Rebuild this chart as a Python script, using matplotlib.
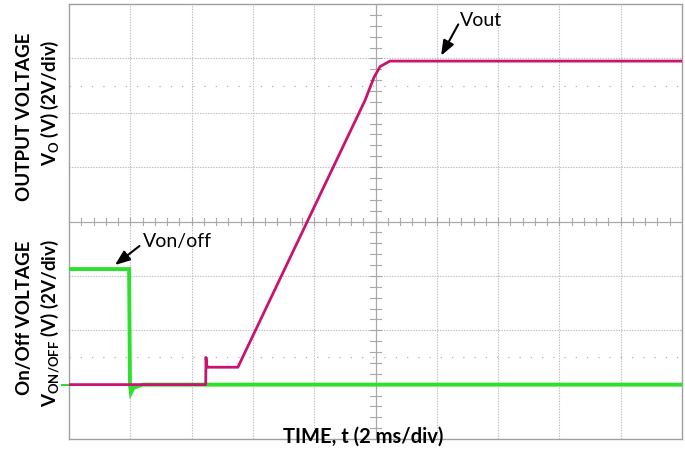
import matplotlib
matplotlib.use("Agg")
import matplotlib.pyplot as plt

# ---- data (time in ms, voltage in V) ----
vout_t = [0, 4.46, 4.47, 4.49, 4.53, 5.51, 9.66, 9.95, 10.15, 10.47, 20]
vout_v = [0, 0, 1.0, 0.72, 0.64, 0.64, 10.46, 11.3, 11.7, 11.9, 11.9]

von_t = [0, 1.96, 1.99, 2.02, 2.1, 2.4, 20]
von_v = [4.25, 4.25, 0.0, -0.3, -0.12, 0.0, 0.0]

x_label = "TIME, t (2 ms/div)"
y_top_label = ["OUTPUT VOLTAGE", "V$_{\\mathrm{O}}$ (V) (2V/div)"]
y_bot_label = ["On/Off VOLTAGE", "V$_{\\mathrm{ON/OFF}}$ (V) (2V/div)"]

plt.rcParams['font.family'] = ['Lato', 'DejaVu Sans']
plt.rcParams['mathtext.fontset'] = 'custom'
plt.rcParams['mathtext.rm'] = 'Lato:bold'
plt.rcParams['mathtext.default'] = 'rm'

fig = plt.figure(figsize=(6.85, 4.51), dpi=100)
ax = fig.add_axes([69/685, 12/451, 613/685, 435/451])
ax.set_xlim(0, 20)
ax.set_ylim(-2, 14)

grid_c = "#bcbcbc"
for x in range(2, 20, 2):
    if x != 10:
        ax.axvline(x, color=grid_c, lw=0.8, ls=(0, (1.2, 1.2)), zorder=1)
for y in range(0, 14, 2):
    if y != 6:
        ax.axhline(y, color=grid_c, lw=0.8, ls=(0, (1.2, 1.2)), zorder=1)
ax.axhline(6, color="#a8a8a8", lw=0.9, zorder=1)
ax.axvline(10, color="#a8a8a8", lw=0.9, zorder=1)
for i in range(1, 50):
    xx = i * 0.4
    ax.plot([xx, xx], [5.88, 6.12], color="#a8a8a8", lw=0.8, zorder=1)
for i in range(1, 40):
    yy = -2 + i * 0.4
    ax.plot([9.82, 10.18], [yy, yy], color="#a8a8a8", lw=0.8, zorder=1)
for yy in (1, 11):
    ax.axhline(yy, color="#b0b0b0", lw=0.9, ls=(0, (1, 8)), zorder=1)

ax.plot(von_t, von_v, color="#2ee02e", lw=2.8, zorder=3, solid_joinstyle='miter')
ax.plot(vout_t, vout_v, color="#c8146e", lw=2.0, zorder=4)
ax.plot([-0.22, -0.02], [0, 0], color="#2ee02e", lw=1.5, clip_on=False)

for s in ax.spines.values():
    s.set_color("#a0a0a0")
    s.set_linewidth(1.0)
ax.set_xticks([])
ax.set_yticks([])

arrow = dict(arrowstyle='-|>,head_length=0.9,head_width=0.35', color='black', lw=1.5,
             shrinkA=0, shrinkB=0, mutation_scale=10)
ax.text(12.75, 13.4, "Vout", fontsize=14, va='center', ha='left')
ax.annotate("", xy=(12.14, 12.1), xytext=(12.7, 13.25), arrowprops=arrow)
ax.text(2.4, 5.25, "Von/off", fontsize=14, va='center', ha='left')
ax.annotate("", xy=(1.5, 4.4), xytext=(2.3, 5.1), arrowprops=arrow)

fs = 13.5
fig.text(25/685, 1 - 117/451, y_top_label[0], rotation=90, ha='center', va='center',
         fontsize=fs, fontweight='bold')
fig.text(50/685, 1 - 103/451, y_top_label[1], rotation=90, ha='center', va='center',
         fontsize=fs, fontweight='bold')
fig.text(25/685, 1 - 318/451, y_bot_label[0], rotation=90, ha='center', va='center',
         fontsize=fs, fontweight='bold')
fig.text(50/685, 1 - 323/451, y_bot_label[1], rotation=90, ha='center', va='center',
         fontsize=fs, fontweight='bold')
fig.text(363/685, 1 - 437/451, x_label, ha='center', va='center',
         fontsize=14.5, fontweight='bold')

fig.savefig("out.png", dpi=100)
